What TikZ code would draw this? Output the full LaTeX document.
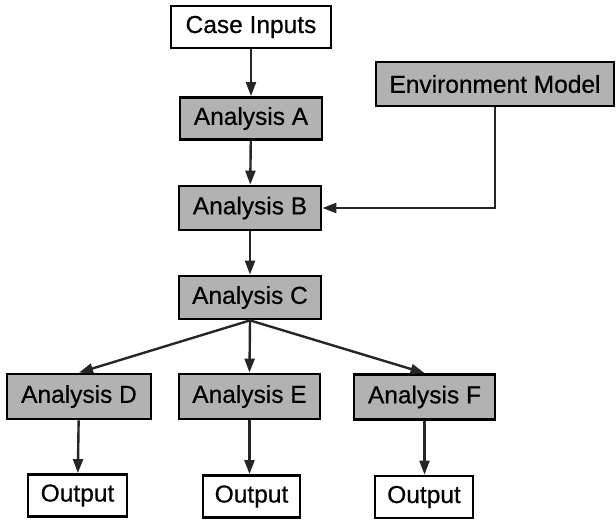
\documentclass[tikz,border=0pt]{standalone}
\usepackage{fontspec}
\setmainfont[FakeBold=0.5]{Liberation Sans}
\usetikzlibrary{arrows.meta}
\begin{document}
\begin{tikzpicture}[x=1pt,y=-1pt,
  box/.style={draw=black,line width=2.8pt,inner sep=0pt,font=\fontsize{24.5}{29}\selectfont,text=black},
  gbox/.style={box,fill=black!30},
  wbox/.style={box,fill=white},
  conn/.style={line width=2.4pt,draw=black!85},
  arr/.style={conn,-{Triangle[length=14pt,width=10pt]}}]
\useasboundingbox (0,0) rectangle (616,521);
\node[wbox,minimum width=160pt,minimum height=42pt] (ci) at (251,27) {Case Inputs};
\node[gbox,minimum width=142pt,minimum height=42pt] (a) at (251,118.5) {Analysis A};
\node[gbox,minimum width=142pt,minimum height=44pt] (b) at (250,208) {Analysis B};
\node[gbox,minimum width=142pt,minimum height=43pt] (c) at (250,297.5) {Analysis C};
\node[gbox,minimum width=238pt,minimum height=44pt] (env) at (495,84) {Environment Model};
\node[gbox,minimum width=144pt,minimum height=45pt] (d) at (79,396.5) {Analysis D};
\node[gbox,minimum width=141pt,minimum height=45pt] (e) at (249.5,396.5) {Analysis E};
\node[gbox,minimum width=141pt,minimum height=45pt] (f) at (424.5,397) {Analysis F};
\node[wbox,minimum width=99pt,minimum height=42pt] (od) at (77.5,495.5) {Output};
\node[wbox,minimum width=97pt,minimum height=42pt] (oe) at (251.5,496.5) {Output};
\node[wbox,minimum width=98pt,minimum height=42pt] (of) at (424,497) {Output};
\draw[arr] (ci) -- (a);
\draw[arr] (a) -- (b);
\draw[arr] (b) -- (c);
\draw[arr] (env.south) |- (b.east);
\draw[arr] (c.south) -- (d.north);
\draw[arr] (c.south) -- (e.north);
\draw[arr] (c.south) -- (f.north);
\draw[arr] (d) -- (od);
\draw[arr] (e.south) -- (e.south |- oe.north);
\draw[arr] (f.south) -- (f.south |- of.north);
\end{tikzpicture}
\end{document}
